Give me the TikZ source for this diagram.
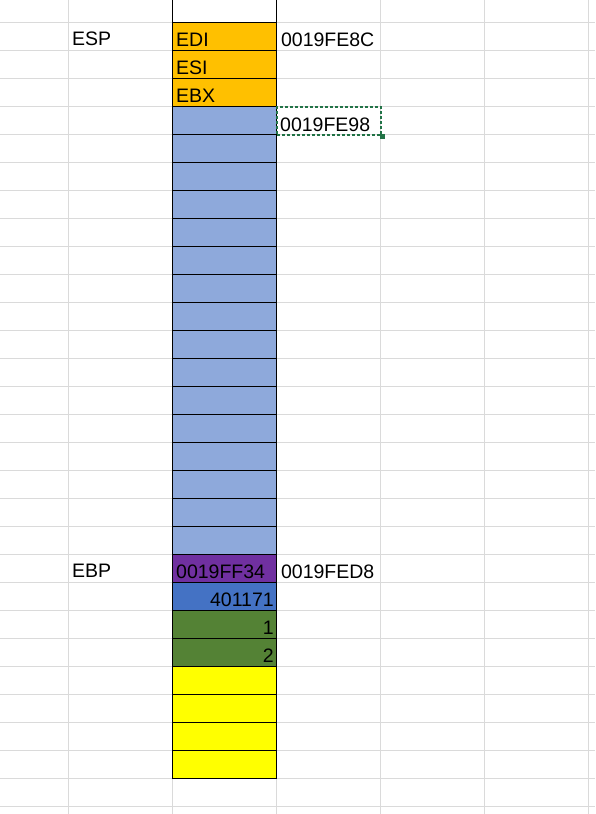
\documentclass[tikz,border=0pt]{standalone}
\usepackage{fontspec}
\setmainfont{Liberation Sans}
\definecolor{xlgrid}{HTML}{DADADA}
\definecolor{xlorange}{HTML}{FFC000}
\definecolor{xllblue}{HTML}{8EA9DB}
\definecolor{xlpurple}{HTML}{7030A0}
\definecolor{xldblue}{HTML}{4472C4}
\definecolor{xlgreen}{HTML}{548235}
\definecolor{xlyellow}{HTML}{FFFF00}
\definecolor{xlsel}{HTML}{217346}
\usetikzlibrary{positioning}

\begin{document}
\begin{tikzpicture}[
  x=1pt, y=-1pt,
  gridline/.style={draw=xlgrid, line width=1pt},
  cell/.style={rectangle, draw=black, line width=0.9pt,
               minimum width=104pt, minimum height=28pt,
               inner sep=0pt, anchor=north west},
  txt/.style={font=\fontsize{19.5}{22}\selectfont, inner sep=0pt},
  lefttxt/.style={txt, anchor=base west, xshift=4pt, yshift=4.5pt},
  righttxt/.style={txt, anchor=base east, xshift=-3pt, yshift=4.5pt}
]
  \useasboundingbox (0,0) rectangle (595,814);
  % sheet grid
  \foreach \k in {0,...,28}
    \draw[gridline] (0,22+28*\k) -- (595,22+28*\k);
  \foreach \c in {68,172,276,380,484,588}
    \draw[gridline] (\c,0) -- (\c,814);

  % stack cells
  \node[cell, fill=white] (top) at (172,-6) {};
  \node[cell, fill=xlorange] (edi) at (172,22) {};
  \node[cell, fill=xlorange] (esi) at (172,50) {};
  \node[cell, fill=xlorange] (ebx) at (172,78) {};
  \foreach \i in {0,...,15}
    \node[cell, fill=xllblue] (buf\i) at (172,106+28*\i) {};
  \node[cell, fill=xlpurple] (oldebp) at (172,554) {};
  \node[cell, fill=xldblue] (ret) at (172,582) {};
  \node[cell, fill=xlgreen] (argone) at (172,610) {};
  \node[cell, fill=xlgreen] (argtwo) at (172,638) {};
  \foreach \i in {0,...,3}
    \node[cell, fill=xlyellow] (free\i) at (172,666+28*\i) {};

  % cell texts
  \node[lefttxt] (edit) at (edi.south west) {EDI};
  \node[lefttxt] (esit) at (esi.south west) {ESI};
  \node[lefttxt] (ebxt) at (ebx.south west) {EBX};
  \node[lefttxt] (oldebpt) at (oldebp.south west) {0019FF34};
  \node[righttxt] (rett) at (ret.south east) {401171};
  \node[righttxt] (argonet) at (argone.south east) {1};
  \node[righttxt] (argtwot) at (argtwo.south east) {2};

  % registers and addresses
  \node[lefttxt] (esp) at (68,50) {ESP};
  \node[lefttxt] (ebp) at (68,582) {EBP};
  \node[lefttxt] (espaddr) at (edi.south east) {0019FE8C};
  \node[lefttxt] (ebpaddr) at (oldebp.south east) {0019FED8};

  % selected cell
  \node[rectangle, draw=xlsel, line width=2pt, dash pattern=on 3pt off 2pt,
        minimum width=104pt, minimum height=28pt, inner sep=0pt,
        anchor=north west] (sel) at (276,106) {};
  \node[lefttxt] (selt) at (sel.south west) {0019FE98};
  \fill[xlsel] (sel.south east) ++(-2.5,-2.5) rectangle ++(5,5);
\end{tikzpicture}
\end{document}
